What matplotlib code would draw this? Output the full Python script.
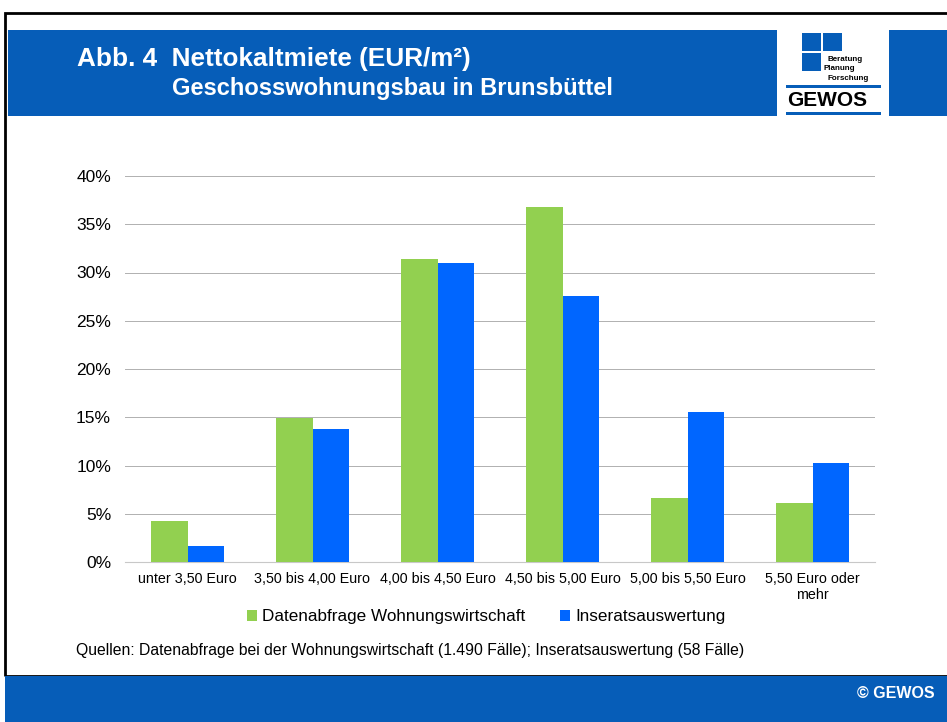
import numpy as np
import matplotlib.pyplot as plt
from matplotlib.patches import Rectangle

plt.rcParams["font.family"] = "Liberation Sans"

categories = ["unter 3,50 Euro", "3,50 bis 4,00 Euro", "4,00 bis 4,50 Euro",
              "4,50 bis 5,00 Euro", "5,00 bis 5,50 Euro", "5,50 Euro oder\nmehr"]
datenabfrage = [4.2, 14.9, 31.4, 36.8, 6.6, 6.1]
inserate     = [1.7, 13.8, 31.0, 27.6, 15.5, 10.3]
yticks       = [0, 5, 10, 15, 20, 25, 30, 35, 40]

GREEN = "#92D050"
BLUE = "#0066FF"
HEADER = "#065DB8"

W, H = 947, 722
fig = plt.figure(figsize=(W / 100, H / 100), dpi=100)

def fx(x): return x / W
def fy(y): return 1 - y / H

def box(x0, y0, x1, y1, **kw):
    fig.add_artist(Rectangle((fx(x0), fy(y1)), fx(x1) - fx(x0), fy(y0) - fy(y1),
                             transform=fig.transFigure, **kw))

# frame, header, footer
box(5, 13, 965, 676, fill=False, edgecolor="black", lw=2)
box(8, 30, 777, 116, color=HEADER, lw=0)
box(889, 30, 950, 116, color=HEADER, lw=0)
box(5, 676, 950, 722, color=HEADER, lw=0)

fig.text(fx(77), fy(59), "Abb. 4  Nettokaltmiete (EUR/m²)", color="white", fontsize=18.8,
         fontweight="bold", va="center", ha="left")
fig.text(fx(172), fy(88), "Geschosswohnungsbau in Brunsbüttel", color="white", fontsize=17,
         fontweight="bold", va="center", ha="left")
fig.text(fx(935), fy(693), "© GEWOS", color="white", fontsize=11.5, fontweight="bold",
         va="center", ha="right")

# logo
for (x0, y0) in [(802, 33), (823, 33), (802, 53)]:
    box(x0, y0, x0 + 19, y0 + 18, color=HEADER, lw=0)
fig.text(fx(827), fy(59.5), "Beratung", fontsize=5.8, fontweight="bold", va="center")
fig.text(fx(823), fy(68.5), "Planung", fontsize=5.8, fontweight="bold", va="center")
fig.text(fx(827), fy(78), "Forschung", fontsize=5.8, fontweight="bold", va="center")
box(786, 85, 881, 88, color=HEADER, lw=0)
box(786, 112, 881, 115, color=HEADER, lw=0)
fig.text(fx(787), fy(101), "GEWOS", fontsize=15, fontweight="bold", va="center")

# chart
ax = fig.add_axes([fx(125), fy(562), fx(875 - 125), fy(176) - fy(562)])
x = np.arange(len(categories))
bw = 0.29
ax.bar(x - bw / 2, datenabfrage, bw, color=GREEN, label="Datenabfrage Wohnungswirtschaft", zorder=3)
ax.bar(x + bw / 2, inserate, bw, color=BLUE, label="Inseratsauswertung", zorder=3)

ax.set_xlim(-0.5, len(categories) - 0.5)
ax.set_ylim(0, 40)
ax.set_yticks(yticks)
ax.set_yticklabels([f"{v}%" for v in yticks], fontsize=12.5)
ax.set_xticks(x)
ax.set_xticklabels(categories, fontsize=10.3, linespacing=1.25)
ax.tick_params(length=0, pad=10)
ax.tick_params(axis="x", pad=7)
ax.yaxis.grid(True, color="#b0b0b0", lw=0.7, zorder=0)
for s in ["top", "right", "left"]:
    ax.spines[s].set_visible(False)
ax.spines["bottom"].set_color("#c8c8c8")

fig.legend(loc="center", bbox_to_anchor=(fx(486), fy(617)), ncol=2, frameon=False,
           fontsize=12.3, handlelength=0.6, handleheight=0.6, handletextpad=0.3, columnspacing=2.0)

fig.text(fx(76), fy(650), "Quellen: Datenabfrage bei der Wohnungswirtschaft (1.490 Fälle); "
         "Inseratsauswertung (58 Fälle)", fontsize=11.3, va="center")

fig.savefig("out.png", dpi=100)
